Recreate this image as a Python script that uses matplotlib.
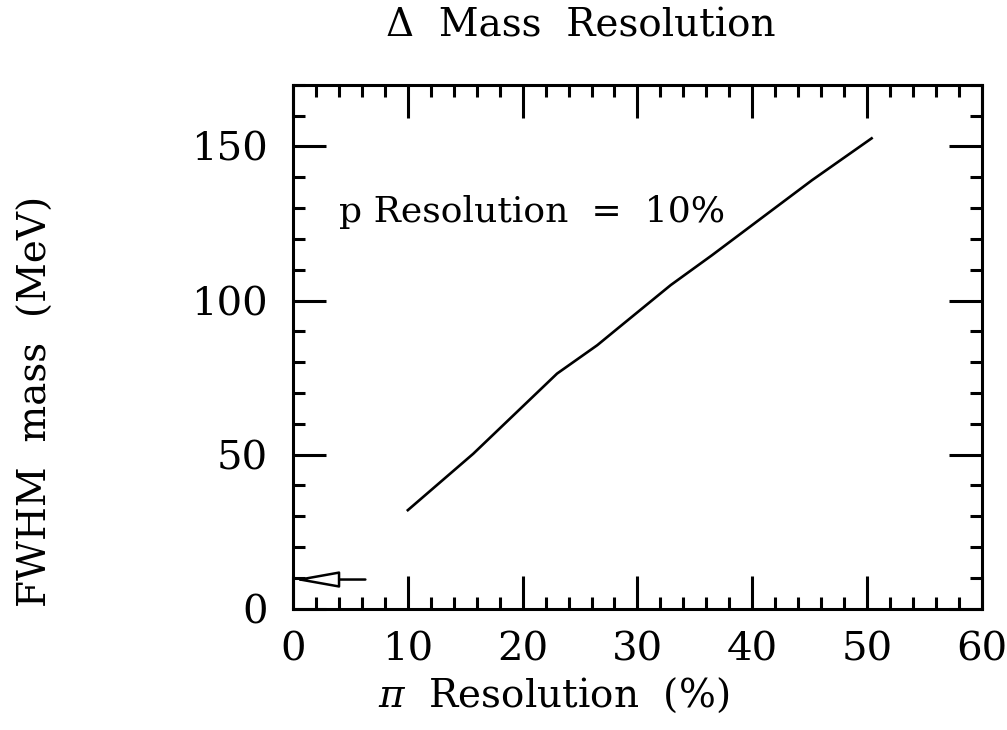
import matplotlib.pyplot as plt
from matplotlib.ticker import MultipleLocator

# curve
pi_res = [10, 15.7, 23.0, 26.5, 28.3, 32.9, 36.5, 45.2, 50.4]
fwhm = [32.0, 50.3, 76.3, 85.5, 91.0, 105.0, 114.7, 139.0, 152.6]

# arrow marking the value at zero pi resolution
arrow_y = 9.5
arrow_tail_x = 6.3

x_ticks = [0, 10, 20, 30, 40, 50, 60]
y_ticks = [0, 50, 100, 150]

plt.rcParams['font.family'] = ['DejaVu Serif']
plt.rcParams['mathtext.fontset'] = 'dejavuserif'

fig = plt.figure(figsize=(10.07, 7.3), dpi=100)
ax = fig.add_axes([0.291, 0.166, 0.684, 0.718])

ax.plot(pi_res, fwhm, color='black', lw=1.9)

ax.annotate('', xy=(0, arrow_y), xytext=(arrow_tail_x, arrow_y),
            arrowprops=dict(arrowstyle='-|>,head_length=2.8,head_width=0.5',
                            fc='white', ec='black', lw=1.8, mutation_scale=10,
                            shrinkA=0, shrinkB=0))

ax.text(4.0, 125.5, 'p Resolution  =  10%', fontsize=26, ha='left', va='baseline')

ax.set_xlim(0, 60)
ax.set_ylim(0, 170)
ax.set_xticks(x_ticks)
ax.set_yticks(y_ticks)
ax.xaxis.set_minor_locator(MultipleLocator(2))
ax.yaxis.set_minor_locator(MultipleLocator(10))
ax.tick_params(which='both', direction='in', top=True, right=True, width=2.2, labelsize=29)
ax.tick_params(which='major', length=24)
ax.tick_params(which='minor', length=8.5)
ax.tick_params(axis='x', pad=16)
ax.tick_params(axis='y', pad=18)
for s in ax.spines.values():
    s.set_linewidth(2.2)

fig.text(0.577, 0.965, 'Δ  Mass  Resolution', fontsize=28, ha='center', va='center')
fig.text(0.55, 0.048, r'$\pi$  Resolution  (%)', fontsize=28, ha='center', va='center')
fig.text(0.036, 0.45, 'FWHM  mass  (MeV)', fontsize=28, ha='center', va='center', rotation=90)

fig.savefig('out.png', dpi=100)
